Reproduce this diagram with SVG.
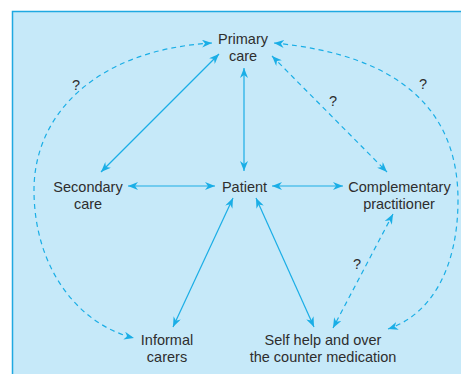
<svg xmlns="http://www.w3.org/2000/svg" width="461" height="374" viewBox="0 0 461 374">
<style>
.t{font-family:"Liberation Sans",Arial,sans-serif;font-size:14.5px;fill:#2e2e2e;text-anchor:middle}
.c{fill:none;stroke:#1aaee6;stroke-width:1.2}
.d{stroke-dasharray:5,4}
</style>
<defs>
<marker id="ah" viewBox="0 0 10 8" refX="10" refY="4" markerWidth="10" markerHeight="8" markerUnits="userSpaceOnUse" orient="auto-start-reverse">
<path d="M0,0 L10,4 L0,8 L3,4 Z" fill="#1aaee6"/>
</marker>
</defs>
<rect x="12.5" y="11.5" width="460" height="370" fill="#c6e9f9" stroke="#1fa9e1" stroke-width="1.5"/>
<g id="connectors">
<line class="c" x1="244" y1="68" x2="244" y2="171" marker-start="url(#ah)" marker-end="url(#ah)"/>
<line class="c" x1="219" y1="54" x2="101" y2="172" marker-start="url(#ah)" marker-end="url(#ah)"/>
<line class="c" x1="128" y1="186" x2="215" y2="186" marker-start="url(#ah)" marker-end="url(#ah)"/>
<line class="c" x1="272" y1="186" x2="343" y2="186" marker-start="url(#ah)" marker-end="url(#ah)"/>
<line class="c" x1="233" y1="198" x2="173" y2="327" marker-start="url(#ah)" marker-end="url(#ah)"/>
<line class="c" x1="256" y1="198" x2="314" y2="327" marker-start="url(#ah)" marker-end="url(#ah)"/>
<line class="c d" x1="272" y1="56" x2="387" y2="172" marker-start="url(#ah)" marker-end="url(#ah)"/>
<line class="c d" x1="393" y1="214" x2="333" y2="328" marker-start="url(#ah)" marker-end="url(#ah)"/>
<path class="c d" d="M212,43 C95,50 34,115 34,190 C34,270 80,325 134,338" marker-start="url(#ah)" marker-end="url(#ah)"/>
<path class="c d" d="M274,43 C400,55 458,110 458,200 C458,270 430,315 388,329" marker-start="url(#ah)" marker-end="url(#ah)"/>
</g>
<g id="primary-care"><text class="t" x="243" y="43.5">Primary</text><text class="t" x="243" y="60.5">care</text></g>
<g id="secondary-care"><text class="t" x="88" y="192">Secondary</text><text class="t" x="88" y="208.5">care</text></g>
<g id="patient"><text class="t" x="244.5" y="192">Patient</text></g>
<g id="complementary-practitioner"><text class="t" x="399.5" y="192">Complementary</text><text class="t" x="399" y="208.5">practitioner</text></g>
<g id="informal-carers"><text class="t" x="167" y="345">Informal</text><text class="t" x="167" y="362">carers</text></g>
<g id="self-help"><text class="t" x="323" y="345">Self help and over</text><text class="t" x="323" y="362">the counter medication</text></g>
<g id="labels">
<text class="t" x="76" y="90">?</text>
<text class="t" x="333" y="106">?</text>
<text class="t" x="423" y="89">?</text>
<text class="t" x="357" y="269">?</text>
</g>
</svg>
